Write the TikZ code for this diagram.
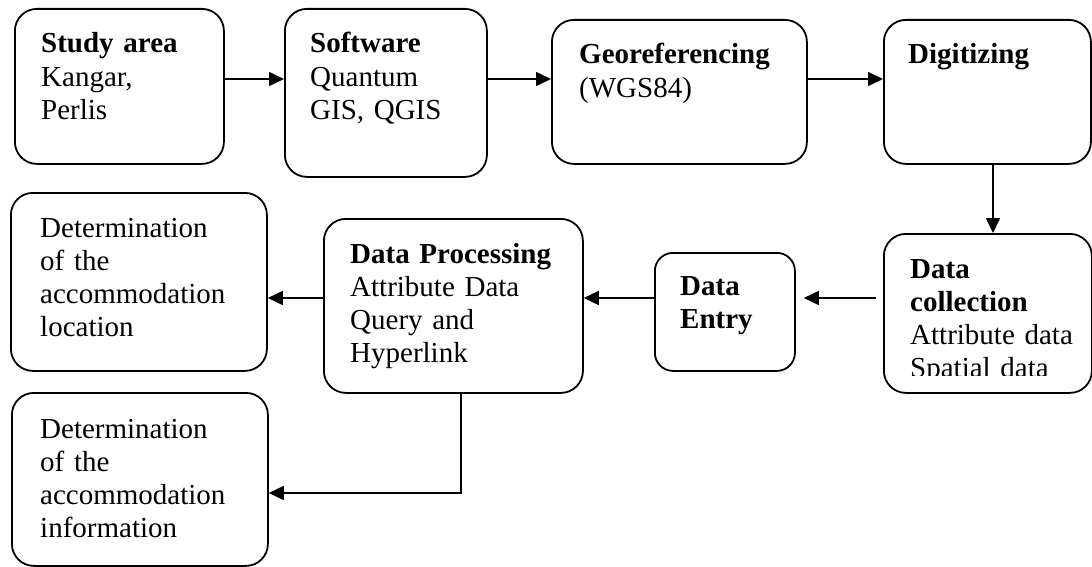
\documentclass[tikz,border=0pt]{standalone}
\usepackage{fontspec}
\setmainfont{Liberation Serif}
\usetikzlibrary{arrows.meta}
\tikzset{
  box/.style={draw, line width=1.8pt, rounded corners=22pt, inner sep=0pt, anchor=north west},
  txt/.style={anchor=base west, inner sep=0pt, text width=300pt, align=left, font=\fontsize{29pt}{33.3pt}\selectfont},
  arr/.style={line width=1.6pt, -{Triangle[length=15pt,width=14pt]}},
}
\begin{document}
\begin{tikzpicture}[x=1pt,y=-1pt]
\useasboundingbox (0,0) rectangle (1092,567);
% boxes
\node[box, minimum width=209pt, minimum height=155pt] (b1) at (14,8) {};
\node[box, minimum width=202pt, minimum height=168pt] (b2) at (284,8) {};
\node[box, minimum width=255pt, minimum height=144pt] (b3) at (551,19) {};
\node[box, minimum width=207pt, minimum height=144pt] (b4) at (883,19) {};
\node[box, minimum width=208pt, minimum height=159pt] (b5) at (883,233) {};
\node[box, minimum width=140pt, minimum height=118pt, rounded corners=18pt] (b6) at (654,252) {};
\node[box, minimum width=259pt, minimum height=174pt] (b7) at (323,218) {};
\node[box, minimum width=256pt, minimum height=178pt] (b8) at (10,192) {};
\node[box, minimum width=256pt, minimum height=173pt] (b9) at (11,392) {};
% texts
\node[txt] (t1) at (41,53) {\textbf{Study area}\\Kangar,\\Perlis};
\node[txt] (t2) at (310,53) {\textbf{Software}\\Quantum\\GIS, QGIS};
\node[txt] (t3) at (579,64) {\textbf{Georeferencing}\\(WGS84)};
\node[txt] (t4) at (908,64) {\textbf{Digitizing}};
\begin{scope}
\clip (880,230) rectangle (1092,375);
\node[txt] (t5) at (910,278) {\textbf{Data}\\\textbf{collection}\\Attribute data\\Spatial data};
\end{scope}
\node[txt] (t6) at (680,295) {\textbf{Data}\\\textbf{Entry}};
\node[txt] (t7) at (350,263) {\textbf{Data Processing}\\Attribute Data\\Query and\\Hyperlink};
\node[txt] (t8) at (40,237) {Determination\\of the\\accommodation\\location};
\node[txt] (t9) at (40,438) {Determination\\of the\\accommodation\\information};
% guide coordinates
\coordinate (r1) at (0,79);
\coordinate (r2) at (0,298);
\coordinate (c4) at (993,0);
\coordinate (c7) at (461,0);
\coordinate (k7) at (461,493);
% connectors
\draw[arr] (b1.east |- r1) -- (b2.west |- r1);
\draw[arr] (b2.east |- r1) -- (b3.west |- r1);
\draw[arr] (b3.east |- r1) -- (b4.west |- r1);
\draw[arr] (b4.south -| c4) -- (b5.north -| c4);
\draw[arr] ([xshift=-7pt]b5.west |- r2) -- ([xshift=8pt]b6.east |- r2);
\draw[arr] (b6.west |- r2) -- (b7.east |- r2);
\draw[arr] (b7.west |- r2) -- (b8.east |- r2);
\draw[arr] (b7.south -| c7) -- (k7) -- (b9.east |- k7);
\end{tikzpicture}
\end{document}
